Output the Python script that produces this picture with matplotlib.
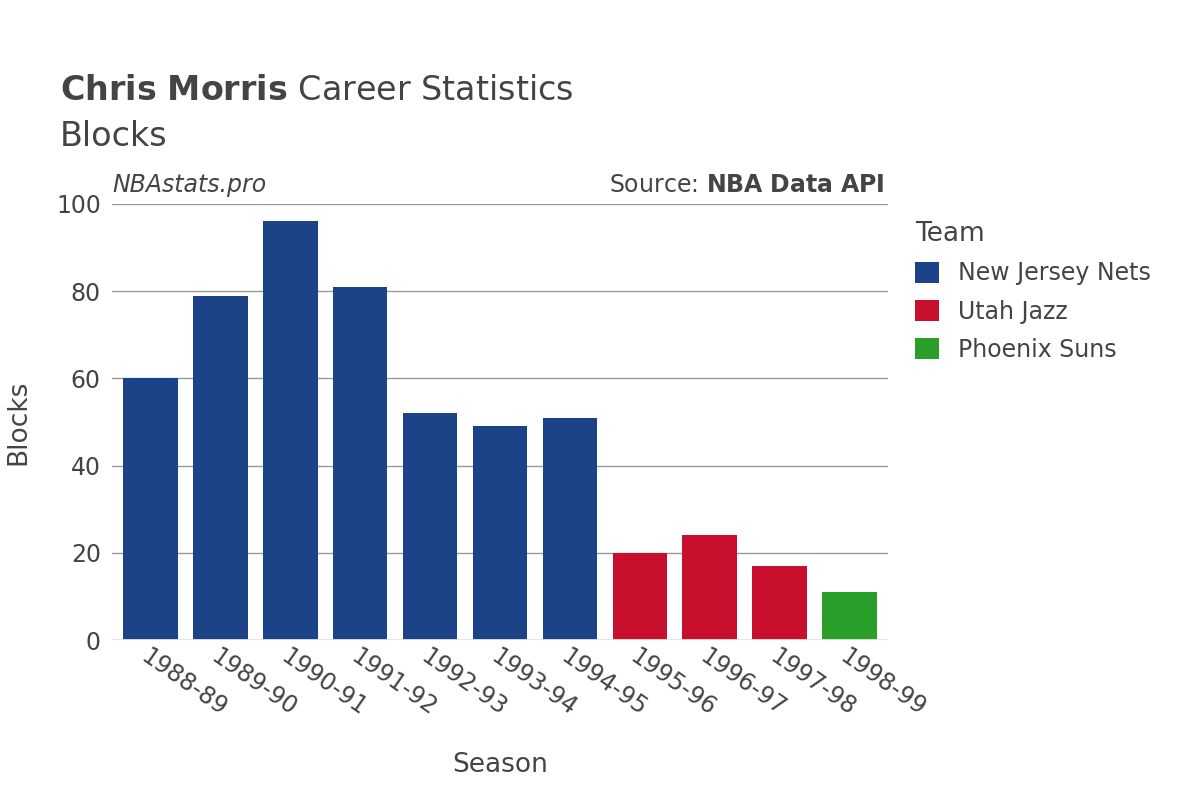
import matplotlib
matplotlib.use("Agg")
import matplotlib.pyplot as plt
from matplotlib.patches import Patch

seasons = ["1988-89", "1989-90", "1990-91", "1991-92", "1992-93", "1993-94",
           "1994-95", "1995-96", "1996-97", "1997-98", "1998-99"]
blocks = [60, 79, 96, 81, 52, 49, 51, 20, 24, 17, 11]
teams = ["New Jersey Nets"] * 7 + ["Utah Jazz"] * 3 + ["Phoenix Suns"]
team_colors = {"New Jersey Nets": "#1c4388", "Utah Jazz": "#c8102e", "Phoenix Suns": "#2aa02b"}

fig = plt.figure(figsize=(12, 8), dpi=100)
ax = fig.add_axes([0.0933, 0.2, 0.6467, 0.545])

x = range(len(seasons))
ax.bar(x, blocks, width=0.78, color=[team_colors[t] for t in teams], zorder=2)
ax.set_xlim(-0.55, len(seasons) - 0.45)
ax.set_ylim(0, 100)
ax.set_yticks([0, 20, 40, 60, 80, 100])
ax.grid(axis="y", color="#999999", linewidth=1, zorder=0)
for s in ax.spines.values():
    s.set_visible(False)
ax.axhline(0, color="#e5e5e5", linewidth=2, zorder=3)
ax.tick_params(axis="both", length=0, labelsize=17, labelcolor="#444444")
ax.tick_params(axis="y", pad=8)
ax.set_xticks(list(x))
ax.set_xticklabels(seasons, rotation=-35, ha="left", va="top", rotation_mode="anchor")

ax.set_xlabel("Season", fontsize=19, color="#444444", labelpad=22)
ax.set_ylabel("Blocks", fontsize=19, color="#444444", labelpad=18)

fig.text(0.05, 0.875, r"$\bf{Chris\ Morris}$ Career Statistics", fontsize=24, color="#444444")
fig.text(0.05, 0.818, "Blocks", fontsize=24, color="#444444")
ax.text(0, 1.015, "NBAstats.pro", transform=ax.transAxes, fontsize=17,
        style="italic", color="#444444", va="bottom")
ax.text(0.995, 1.015, r"Source: $\bf{NBA\ Data\ API}$", transform=ax.transAxes,
        fontsize=17, color="#444444", va="bottom", ha="right")

handles = [Patch(facecolor=c, label=t) for t, c in team_colors.items()]
leg = fig.legend(handles=handles, loc="upper left", bbox_to_anchor=(0.745, 0.75),
                 frameon=False, fontsize=17, title="Team", title_fontsize=19,
                 handlelength=1, handleheight=1, labelspacing=0.6)
leg._legend_box.align = "left"
for t in leg.get_texts():
    t.set_color("#444444")
leg.get_title().set_color("#444444")

fig.savefig("out.png", dpi=100)
